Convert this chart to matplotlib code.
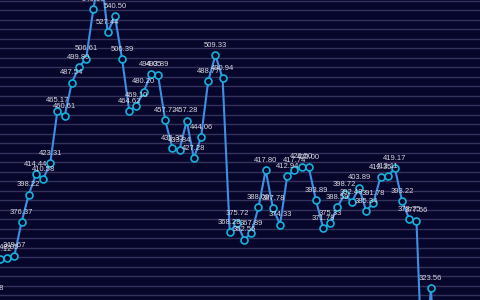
import matplotlib
matplotlib.use("Agg")
import matplotlib.pyplot as plt
import numpy as np

# point index (x) and value
idx = list(range(-1, 62))
vals = [315.48,
        347.12, 348.05, 349.67, 376.37, 398.22, 414.44, 410.58, 423.31,
        465.17, 460.61, 487.54, 499.80, 506.61, 546.10, 578.00, 527.44,
        540.50, 506.39, 464.62, 469.10, 480.20, 494.05, 493.89, 457.72,
        435.35, 433.84, 457.28, 427.28, 444.06, 488.77, 509.33, 490.94,
        368.28, 375.72, 362.56, 367.89, 388.09, 417.80, 387.78, 374.33,
        412.94, 417.74, 420.50, 420.00, 393.89, 371.78, 375.33, 388.59,
        398.72, 392.48, 403.89, 385.34, 391.78, 412.35, 413.11, 419.17,
        393.22, 378.75, 377.56, 232.00, 323.56, 240.00]

bg = '#06052a'
grid_col = '#34325a'
line_col = '#3d8fe3'
mark_col = '#12b2dc'
text_col = '#d8d8e2'

fig = plt.figure(figsize=(4.8, 3.0), dpi=100)
fig.patch.set_facecolor(bg)
ax = fig.add_axes([0, 0, 1, 1])
ax.set_facecolor(bg)

ax.set_xlim(0, 66.85)
ax.set_ylim(314.4, 553.24)

# horizontal grid
for g in np.arange(552.7, 300, -7.57):
    ax.axhline(g, color=grid_col, lw=1, zorder=1)

ax.plot(idx, vals, color=line_col, lw=1.5, zorder=2)
ax.plot(idx, vals, 'o', ms=5, mfc=bg, mec=mark_col, mew=1.2, zorder=3)

for x, v in zip(idx, vals):
    ax.annotate(f"{v:.2f}", (x, v), xytext=(0, 4.5), textcoords='offset points',
                ha='center', va='bottom', fontsize=5.5, color=text_col,
                family='Liberation Sans', annotation_clip=False, zorder=4)

for s in ax.spines.values():
    s.set_visible(False)
ax.set_xticks([])
ax.set_yticks([])

fig.savefig("out.png", dpi=100, facecolor=bg)
